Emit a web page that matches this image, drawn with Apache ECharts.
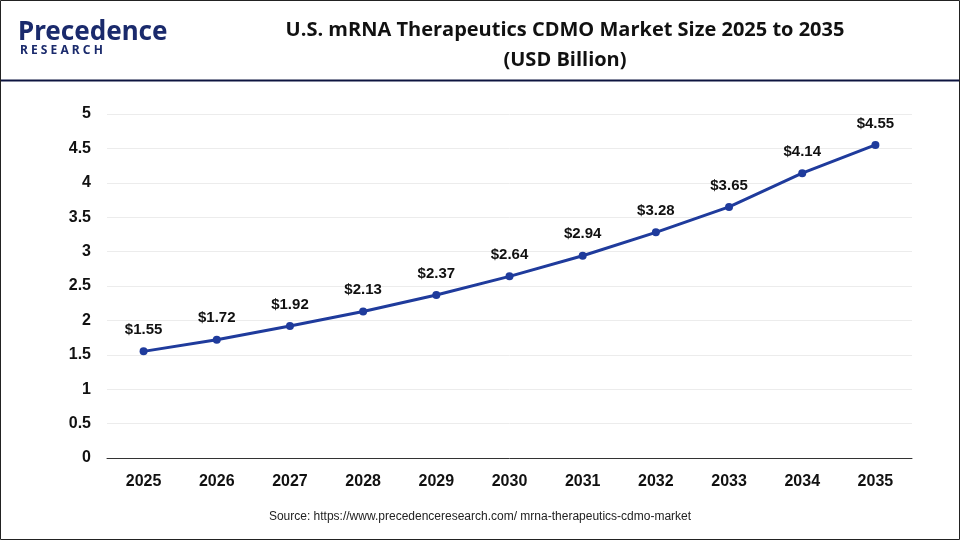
<!DOCTYPE html>
<html><head><meta charset="utf-8">
<script src="https://cdn.jsdelivr.net/npm/echarts@6/dist/echarts.min.js"></script>
<style>html,body{margin:0;padding:0;background:#fff}#c{width:960px;height:540px}</style>
</head><body><div id="c"></div>
<script>
const categories=['2025','2026','2027','2028','2029','2030','2031','2032','2033','2034','2035'];
const values=[1.55,1.72,1.92,2.13,2.37,2.64,2.94,3.28,3.65,4.14,4.55];
const yTicks=[0,0.5,1,1.5,2,2.5,3,3.5,4,4.5,5];
const chart=echarts.init(document.getElementById('c'));
chart.setOption({
  backgroundColor:'#fff',
  graphic:[
    {type:'rect',shape:{x:0.5,y:0.5,width:959,height:539},style:{fill:'none',stroke:'#222',lineWidth:1}},
    {type:'rect',shape:{x:1,y:79.5,width:958,height:2},style:{fill:'#0d1440'}},
    {type:'text',style:{x:18,y:20,text:'Precedence',font:'bold 26px "Noto Sans"',fill:'#1a2a6c'}},
    {type:'text',style:{x:20,y:45,text:'R E S E A R C H',font:'bold 12px "Noto Sans"',fill:'#1a2a6c'}},
    {type:'text',style:{x:565,y:15,text:'U.S. mRNA Therapeutics CDMO Market Size 2025 to 2035\n(USD Billion)',font:'bold 20px "Open Sans"',fill:'#111',align:'center',lineHeight:30}},
    {type:'text',style:{x:480,y:511,text:'Source: https://www.precedenceresearch.com/ mrna-therapeutics-cdmo-market',font:'12px "Liberation Sans"',fill:'#222',align:'center'}}
  ],
  grid:{left:107,right:48,top:114,bottom:82},
  xAxis:{type:'category',data:categories,boundaryGap:true,
    axisLine:{lineStyle:{color:'#333'}},axisTick:{show:false},
    axisLabel:{color:'#111',fontWeight:'bold',fontSize:16,fontFamily:'Liberation Sans',margin:16}},
  yAxis:{type:'value',min:0,max:5,interval:0.5,
    axisLabel:{color:'#111',fontWeight:'bold',fontSize:16,fontFamily:'Liberation Sans',margin:16,
      customValues:yTicks},
    splitLine:{lineStyle:{color:'#ececec'}},axisLine:{show:false}},
  series:[{type:'line',data:values,symbol:'circle',symbolSize:8,
    lineStyle:{color:'#1f3b9c',width:3},itemStyle:{color:'#1f3b9c'},
    label:{show:true,position:'top',distance:10,formatter:p=>'$'+p.value.toFixed(2),
      color:'#111',fontWeight:'bold',fontSize:15,fontFamily:'Liberation Sans'}}]
});
</script></body></html>
